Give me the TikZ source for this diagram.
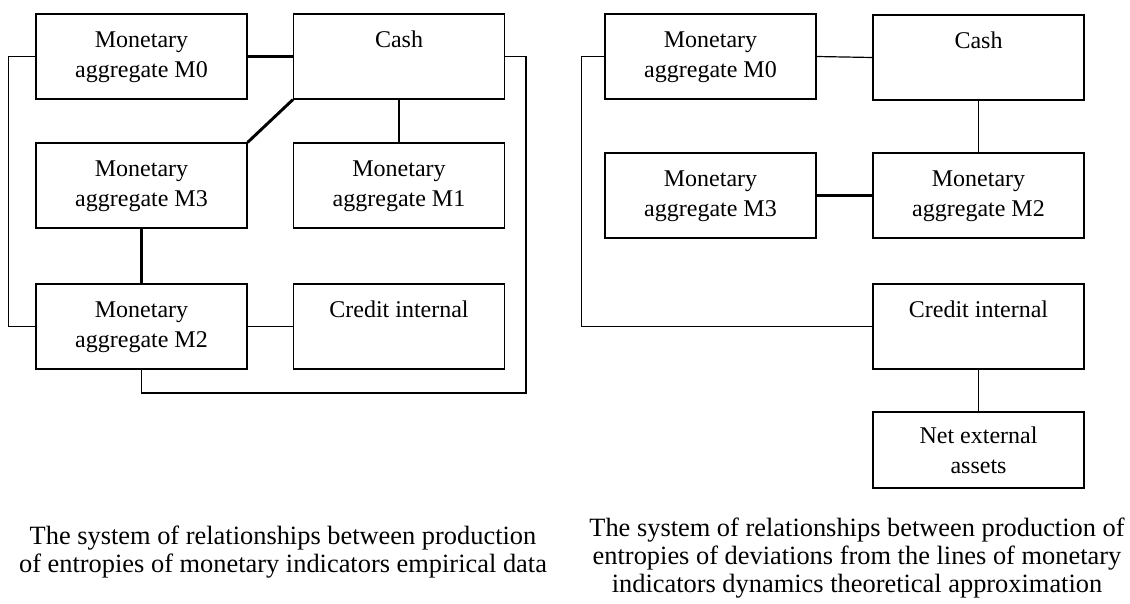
\documentclass[tikz,border=0pt]{standalone}
\usepackage{fontspec}
\setmainfont{Liberation Serif}
\newlength\px \setlength\px{0.75pt}
\newcommand\bxt[3]{\parbox[c][#1\px][t]{205\px}{\centering\rule{0pt}{#2\px}#3\par}}
\tikzset{
  box/.style={draw, line width=0.9pt, rectangle, inner sep=0pt,
    minimum width=211\px, minimum height=85\px, font=\fontsize{18}{23}\selectfont},
  link/.style={line width=0.9pt},
  strong/.style={line width=2.2pt},
  captext/.style={align=center, inner sep=0pt, font=\fontsize{19.8}{20.8}\selectfont}
}
\begin{document}
\begin{tikzpicture}[x=0.75pt,y=-0.75pt]
\useasboundingbox (0,0) rectangle (1130,603);
% left system
\node[box] (L0) at (141.5,56.5) {\bxt{85}{33}{Monetary\\aggregate M0}};
\node[box] (Lcash) at (399,56.5) {\bxt{85}{33}{Cash}};
\node[box] (L3) at (141.5,185.5) {\bxt{85}{33}{Monetary\\aggregate M3}};
\node[box] (L1) at (399,185.5) {\bxt{85}{33}{Monetary\\aggregate M1}};
\node[box] (L2) at (141.5,326.5) {\bxt{85}{33}{Monetary\\aggregate M2}};
\node[box] (Lcredit) at (399,326.5) {\bxt{85}{33}{Credit internal}};
\coordinate (Lbr) at (526,393);
\draw[strong] (L0.east) -- (Lcash.west);
\draw[strong] (Lcash.south west) -- (L3.north east);
\draw[link] (Lcash.south) -- (L1.north);
\draw[strong] (L3.south) -- (L2.north);
\draw[link] (L2.east) -- (Lcredit.west);
\draw[link] (L0.west) -- ++(-27,0) |- (L2.west);
\draw[link] (Lcash.east) -| (Lbr) -| (L2.south);
% right system
\node[box] (R0) at (710.5,56.5) {\bxt{85}{33}{Monetary\\aggregate M0}};
\node[box] (Rcash) at (978.5,57.5) {\bxt{85}{33}{Cash}};
\node[box] (R3) at (710.5,195.5) {\bxt{85}{33}{Monetary\\aggregate M3}};
\node[box] (R2) at (978.5,195.5) {\bxt{85}{33}{Monetary\\aggregate M2}};
\node[box] (Rcredit) at (978.5,326.5) {\bxt{85}{33}{Credit internal}};
\node[box, minimum height=76\px] (Rnet) at (978.5,450) {\bxt{76}{31}{Net external\\assets}};
\draw[link] (R0.east) -- (Rcash.west);
\draw[link] (Rcash.south) -- (R2.north);
\draw[strong] (R3.east) -- (R2.west);
\draw[link] (Rcredit.south) -- (Rnet.north);
\draw[link] (R0.west) -- ++(-23,0) |- (Rcredit.west);
% captions
\node[captext] (capL) at (283,552) {The system of relationships between production\\of entropies of monetary indicators empirical data};
\node[captext] (capR) at (857,558) {The system of relationships between production of\\entropies of deviations from the lines of monetary\\indicators dynamics theoretical approximation};
\end{tikzpicture}
\end{document}
